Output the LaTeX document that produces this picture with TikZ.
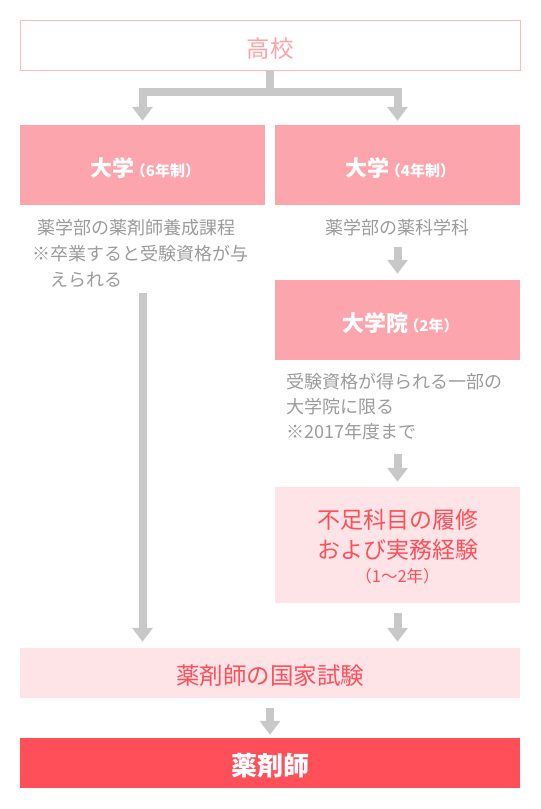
\documentclass[tikz,border=0pt]{standalone}
\usepackage{fontspec}
\setmainfont{Noto Sans CJK JP}
\usetikzlibrary{arrows.meta}
\definecolor{unipink}{HTML}{FDA5AC}
\definecolor{kokoline}{HTML}{FFB9BE}
\definecolor{kokotext}{HTML}{FFA3AA}
\definecolor{palepink}{HTML}{FFE4E7}
\definecolor{pharmred}{HTML}{FF505A}
\definecolor{notegrey}{HTML}{9B9B9B}
\definecolor{arrowgrey}{HTML}{C8C8C8}
\newcommand{\lowered}[1]{\raisebox{-3pt}[\height][\depth]{#1}}
\newcommand{\yearsmall}[1]{\hspace{-4pt}{\fontsize{15}{15}\selectfont （#1）}}
\begin{document}
\begin{tikzpicture}[x=1pt, y=-1pt,
	wide/.style={minimum width=500pt, minimum height=50pt, inner sep=0pt},
	half/.style={minimum width=245pt, minimum height=80pt, inner sep=0pt, fill=unipink, text=white, font=\bfseries},
	note/.style={text=notegrey, inner sep=0pt, font=\fontsize{18}{26}\selectfont},
	pipe/.style={arrowgrey, line width=8pt},
	arr/.style={pipe, -{Triangle[width=20pt,length=14pt]}}]
	\useasboundingbox (0,0) rectangle (541,809);

	\node[wide, draw=kokoline, line width=1pt, text=kokotext, font=\fontsize{23.5}{23.5}\selectfont] (koko) at (270,45.5) {\lowered{高校}};
	\node[half] (dai6) at (142.5,165) {\lowered{\hspace*{6pt}{\fontsize{22}{22}\selectfont 大学}\yearsmall{6年制}}};
	\node[half] (dai4) at (397.5,165) {\lowered{\hspace*{6pt}{\fontsize{22}{22}\selectfont 大学}\yearsmall{4年制}}};

	\node[note, anchor=west, align=left] (note6) at (32,253) {\hspace*{5pt}薬学部の薬剤師養成課程\\※卒業すると受験資格が与\\\hspace*{18pt}えられる};
	\node[note] (note4) at (397.5,228) {薬学部の薬科学科};

	\node[half] (grad) at (397.5,320) {\lowered{\hspace*{6pt}{\fontsize{22}{22}\selectfont 大学院}\yearsmall{2年}}};
	\node[note, anchor=west, align=left, font=\fontsize{18}{25}\selectfont] (gradnote) at (286,407) {受験資格が得られる一部の\\大学院に限る\\※2017年度まで};

	\node[minimum width=245pt, minimum height=116pt, inner sep=0pt, fill=palepink, text=pharmred, font=\fontsize{23}{30}\selectfont] (extra) at (397.5,545) {\raisebox{-4pt}[\height][\depth]{\begin{tabular}{@{}c@{}}不足科目の履修\\および実務経験\\[-6pt]{\fontsize{16.5}{16.5}\selectfont （1〜2年）}\end{tabular}}};

	\node[wide, fill=palepink, text=pharmred, font=\fontsize{23.5}{23.5}\selectfont] (exam) at (270,673) {\lowered{薬剤師の国家試験}};
	\node[wide, fill=pharmred, text=white, font=\bfseries\fontsize{26}{26}\selectfont] (pharm) at (270,763) {\lowered{薬剤師}};

	% fork from 高校
	\coordinate (fork) at (270,92);
	\draw[pipe] (koko.south) -- (fork);
	\draw[arr, shorten >=4pt] (fork) -| (dai6.north);
	\draw[arr, shorten >=4pt] (fork) -| (dai4.north);

	\draw[arr, shorten <=6pt, shorten >=6pt] (dai6.south |- note6.south) -- (dai6.south |- exam.north);
	\draw[arr, shorten <=10pt, shorten >=6pt] (note4) -- (grad);
	\draw[arr, shorten <=13pt, shorten >=5pt] (grad.south |- gradnote.south) -- (extra.north);
	\draw[arr, shorten <=10pt, shorten >=6pt] (extra.south) -- (extra.south |- exam.north);
	\draw[arr, shorten <=10pt, shorten >=3pt] (exam) -- (pharm);
\end{tikzpicture}
\end{document}
